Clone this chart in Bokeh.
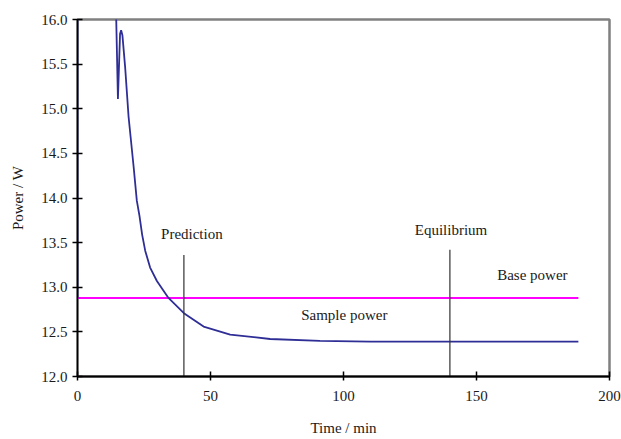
from bokeh.plotting import figure
from bokeh.models import Range1d, FixedTicker, PrintfTickFormatter, ColumnDataSource
from bokeh.core.properties import value
from bokeh.embed import file_html
from bokeh.resources import INLINE

# ---- data ----
sample_time = [0, 0, 14.2, 14.2, 15.2, 16.0, 16.4, 16.9, 17.9, 19.2, 21.1, 22.3, 23.3,
               24.3, 25.45, 27.3, 29.85, 34.2, 40.0, 47.4, 57.4, 72.4, 91.2, 110, 130,
               150, 170, 188.3]
sample_power = [12.88, 16.5, 16.5, 16.5, 15.11, 15.84, 15.88, 15.82, 15.47, 14.91, 14.35,
                13.97, 13.80, 13.59, 13.41, 13.22, 13.07, 12.88, 12.71, 12.56, 12.47,
                12.42, 12.40, 12.39, 12.39, 12.39, 12.39, 12.39]

base_time = [0, 188.3]
base_power = [12.88, 12.88]

marker_time = [40, 140]
marker_bottom = [12.0, 12.0]
marker_top = [13.36, 13.42]

label_text = ["Prediction", "Equilibrium", "Base power", "Sample power"]
label_x = [43.0, 140.4, 171.0, 100.3]
label_y = [13.60, 13.64, 13.14, 12.69]

x_ticks = [0, 50, 100, 150, 200]
y_ticks = [12.0, 12.5, 13.0, 13.5, 14.0, 14.5, 15.0, 15.5, 16.0]

FONT = "Liberation Serif"
TXT = "#1a1a1a"

p = figure(frame_width=532, frame_height=357,
           min_border_left=77, min_border_top=19, min_border_right=12, min_border_bottom=63,
           x_range=Range1d(0, 200), y_range=Range1d(12, 16),
           output_backend="svg", toolbar_location=None)

p.background_fill_color = "white"
p.border_fill_color = "white"
p.outline_line_color = "#808080"
p.outline_line_width = 2.5
p.xgrid.visible = False
p.ygrid.visible = False

p.xaxis.ticker = FixedTicker(ticks=x_ticks)
p.yaxis.ticker = FixedTicker(ticks=y_ticks)
p.yaxis.formatter = PrintfTickFormatter(format="%.1f")
p.xaxis.formatter = PrintfTickFormatter(format="%d")

for ax in (p.xaxis, p.yaxis):
    ax.major_label_text_font = FONT
    ax.major_label_text_font_size = "15px"
    ax.major_label_text_color = TXT
    ax.axis_label_text_font = FONT
    ax.axis_label_text_font_size = "15px"
    ax.axis_label_text_font_style = "normal"
    ax.axis_label_text_color = TXT
    ax.axis_line_color = "black"
    ax.major_tick_line_color = "black"
    ax.major_tick_line_width = 1.5
    ax.minor_tick_line_color = None
    ax.major_tick_in = 5
    ax.major_tick_out = 5

p.xaxis.axis_line_width = 2
p.yaxis.axis_line_width = 1.5
p.xaxis.major_tick_out = 4
p.xaxis.major_label_standoff = 10
p.yaxis.major_label_standoff = 5
p.xaxis.axis_label = "Time / min"
p.yaxis.axis_label = "Power / W"
p.xaxis.axis_label_standoff = 16
p.yaxis.axis_label_standoff = 12

# base power
p.line(base_time, base_power, line_color="#ff00ff", line_width=2)

# sample power
p.line(sample_time, sample_power, line_color="#2e2e96", line_width=1.8)

# marker lines
p.segment(x0=marker_time, y0=marker_bottom, x1=marker_time, y1=marker_top,
          line_color="#333333", line_width=1.2)

src = ColumnDataSource(dict(x=label_x, y=label_y, t=label_text))
p.text(x="x", y="y", text="t", source=src, text_font=value(FONT),
       text_font_size="15px", text_color=TXT, text_align="center",
       text_baseline="middle")

open("out.html", "w").write(file_html(p, INLINE))
